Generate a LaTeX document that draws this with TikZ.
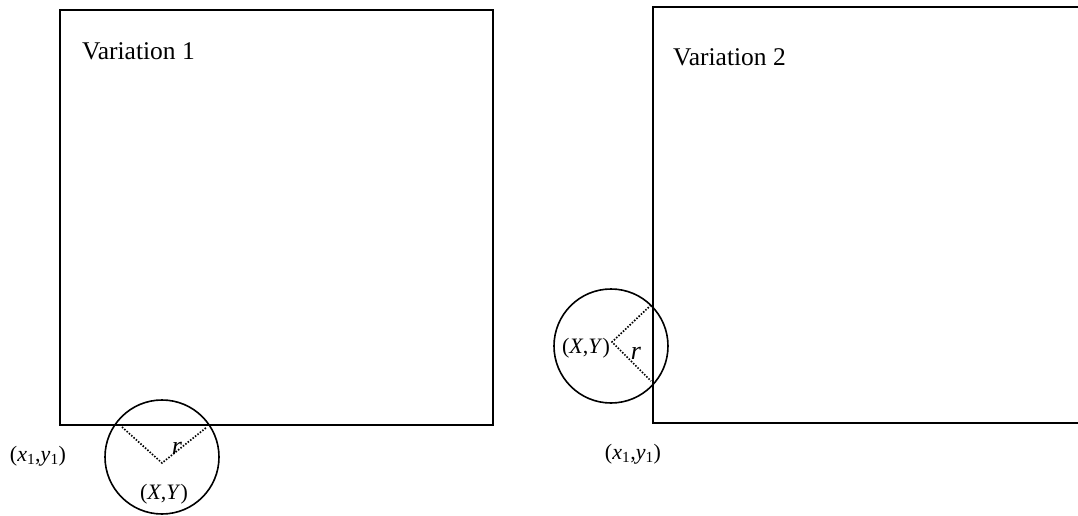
\documentclass[tikz,border=0pt]{standalone}
\usepackage{fontspec}
\setmainfont{Liberation Serif}
\begin{document}
\begin{tikzpicture}[x=1pt,y=-1pt,
  boxline/.style={draw=black,line width=1.7pt},
  ring/.style={draw=black,line width=1.6pt},
  radius line/.style={draw=black,line width=1.7pt,dash pattern=on 1.5pt off 1.6pt},
  lab/.style={inner sep=0pt,font=\fontsize{22}{24}\selectfont},
  rlab/.style={inner sep=0pt,font=\fontsize{26}{28}\selectfont\itshape},
  title/.style={inner sep=0pt,anchor=base west,font=\fontsize{25.5}{28}\selectfont}]
\useasboundingbox (0,0) rectangle (1078,516);
\clip (0,0) rectangle (1078,516);
% Variation 1
\draw[boxline] (60,10) rectangle (493,425);
\node[title] (t1) at (82,60) {Variation 1};
\coordinate (o1) at (162,457);
\draw[ring] (o1) circle [radius=57];
\coordinate (c1) at (162,463);
\coordinate (a1) at (122,427);
\coordinate (b1) at (207,427);
\draw[radius line] (a1) -- (c1) -- (b1);
\node[rlab] (r1) at (177,448) {r};
\node[lab] (xy1) at (164,494) {(\textit{X},\textit{Y})};
\node[lab] (p1) at (38,456) {(\textit{x}\textsubscript{1},\textit{y}\textsubscript{1})};
% Variation 2
\draw[boxline] (1090,7) -- (653,7) -- (653,423) -- (1090,423);
\node[title] (t2) at (673,66) {Variation 2};
\coordinate (o2) at (611,346);
\draw[ring] (o2) circle [radius=57];
\coordinate (c2) at (612,342);
\coordinate (a2) at (651,305);
\coordinate (b2) at (651,381);
\draw[radius line] (a2) -- (c2) -- (b2);
\node[rlab] (r2) at (636,353) {r};
\node[lab] (xy2) at (586,348) {(\textit{X},\textit{Y})};
\node[lab] (p2) at (633,454) {(\textit{x}\textsubscript{1},\textit{y}\textsubscript{1})};
\end{tikzpicture}
\end{document}
